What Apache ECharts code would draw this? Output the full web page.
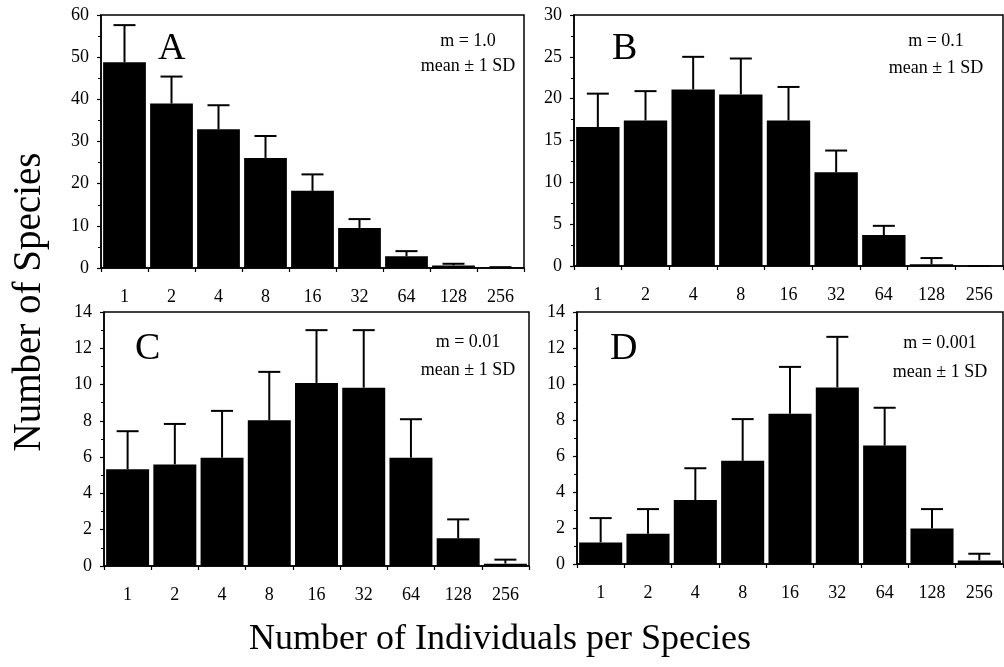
<!DOCTYPE html>
<html>
<head>
<meta charset="utf-8">
<script src="https://cdn.jsdelivr.net/npm/echarts@6/dist/echarts.min.js"></script>
<style>html,body{margin:0;padding:0;background:#fff;}#c{width:1004px;height:667px;}</style>
</head>
<body>
<div id="c"></div>
<script>
const categories = ['1', '2', '4', '8', '16', '32', '64', '128', '256'];

const meanA = [48.8, 39.0, 32.9, 26.1, 18.3, 9.5, 2.8, 0.6, 0.1];
const sdA   = [8.8, 6.4, 5.7, 5.2, 3.9, 2.1, 1.2, 0.4, 0.1];

const meanB = [16.6, 17.4, 21.1, 20.5, 17.4, 11.2, 3.7, 0.2, 0];
const sdB   = [4.0, 3.5, 3.9, 4.3, 4.0, 2.6, 1.1, 0.75, 0];

const meanC = [5.33, 5.6, 5.97, 8.03, 10.09, 9.83, 5.97, 1.53, 0.13];
const sdC   = [2.1, 2.23, 2.58, 2.67, 2.91, 3.17, 2.12, 1.04, 0.22];

const meanD = [1.2, 1.68, 3.55, 5.73, 8.35, 9.81, 6.58, 1.97, 0.2];
const sdD   = [1.35, 1.37, 1.77, 2.32, 2.6, 2.81, 2.1, 1.08, 0.37];

const panelLetters = ['A', 'B', 'C', 'D'];
const migrationLabels = ['m = 1.0', 'm = 0.1', 'm = 0.01', 'm = 0.001'];
const sdLabel = 'mean \u00b1 1 SD';
const yMax = [60, 30, 14, 14];
const yInterval = [10, 5, 2, 2];
const xTitle = 'Number of Individuals per Species';
const yTitle = 'Number of Species';

const means = [meanA, meanB, meanC, meanD];
const sds = [sdA, sdB, sdC, sdD];

const FONT = '"Liberation Serif", "DejaVu Serif", serif';

const grids = [
  {left: 101, top: 15, width: 423, height: 253},
  {left: 574, top: 15, width: 429, height: 251},
  {left: 104, top: 312, width: 425, height: 254},
  {left: 577, top: 312, width: 426, height: 252}
];

const chart = echarts.init(document.getElementById('c'), null, {renderer: 'canvas'});

const xAxes = [], yAxes = [], series = [];
grids.forEach((g, i) => {
  g.show = true; g.borderColor = '#000'; g.borderWidth = 1.5; g.backgroundColor = '#fff';
  xAxes.push({
    type: 'category', gridIndex: i, data: categories,
    axisLine: {lineStyle: {color: '#000', width: 1.5}},
    axisTick: {show: true, length: 4, lineStyle: {color: '#000', width: 1.2}},
    axisLabel: {color: '#000', fontFamily: FONT, fontSize: 18, margin: 20}
  });
  yAxes.push({
    type: 'value', gridIndex: i, min: 0, max: yMax[i], interval: yInterval[i],
    splitLine: {show: false},
    axisLine: {show: true, lineStyle: {color: '#000', width: 1.5}},
    axisTick: {show: true, length: 4, lineStyle: {color: '#000', width: 1.2}},
    minorTick: {show: true, splitNumber: 2, length: 3, lineStyle: {color: '#000', width: 1}},
    axisLabel: {color: '#000', fontFamily: FONT, fontSize: 18, margin: 12}
  });
  series.push({
    type: 'bar', xAxisIndex: i, yAxisIndex: i, data: means[i],
    barCategoryGap: '9%', itemStyle: {color: '#000'}, z: 2
  });
  series.push({
    type: 'custom', xAxisIndex: i, yAxisIndex: i, z: 3,
    data: categories.map((c, k) => [k, means[i][k], sds[i][k]]),
    encode: {x: 0, y: [1, 2]},
    renderItem: function (params, api) {
      const x = api.value(0), m = api.value(1), s = api.value(2);
      const p0 = api.coord([x, m]);
      const p1 = api.coord([x, m + s]);
      const hw = 11;
      return {
        type: 'group',
        children: [
          {type: 'line', shape: {x1: p0[0], y1: p0[1], x2: p1[0], y2: p1[1]}, style: {stroke: '#000', lineWidth: 2}},
          {type: 'line', shape: {x1: p1[0] - hw, y1: p1[1], x2: p1[0] + hw, y2: p1[1]}, style: {stroke: '#000', lineWidth: 2}}
        ]
      };
    }
  });
});

const letterPos = [[158, 30], [612, 30], [135, 330], [610, 330]];
const notePos = [[468, 41, 66], [936, 41, 68], [468, 342, 370], [940, 343, 372]];

const graphics = [];
panelLetters.forEach((L, i) => {
  graphics.push({
    type: 'text', left: letterPos[i][0], top: letterPos[i][1], z: 10,
    style: {text: L, fontFamily: FONT, fontSize: 38, fill: '#000'}
  });
  graphics.push({
    type: 'text', x: notePos[i][0], y: notePos[i][1], z: 10,
    style: {text: migrationLabels[i], fontFamily: FONT, fontSize: 18, fill: '#000', align: 'center', verticalAlign: 'middle'}
  });
  graphics.push({
    type: 'text', x: notePos[i][0], y: notePos[i][2], z: 10,
    style: {text: sdLabel, fontFamily: FONT, fontSize: 18, fill: '#000', align: 'center', verticalAlign: 'middle'}
  });
});
graphics.push({
  type: 'text', x: 500, y: 640, z: 10,
  style: {text: xTitle, fontFamily: FONT, fontSize: 36, fill: '#000', align: 'center', verticalAlign: 'middle'}
});
graphics.push({
  type: 'text', x: 30, y: 302, rotation: Math.PI / 2, z: 10,
  style: {text: yTitle, fontFamily: FONT, fontSize: 39, fill: '#000', align: 'center', verticalAlign: 'middle'}
});

chart.setOption({
  backgroundColor: '#fff',
  animation: false,
  grid: grids,
  xAxis: xAxes,
  yAxis: yAxes,
  series: series,
  graphic: graphics
});
</script>
</body>
</html>
